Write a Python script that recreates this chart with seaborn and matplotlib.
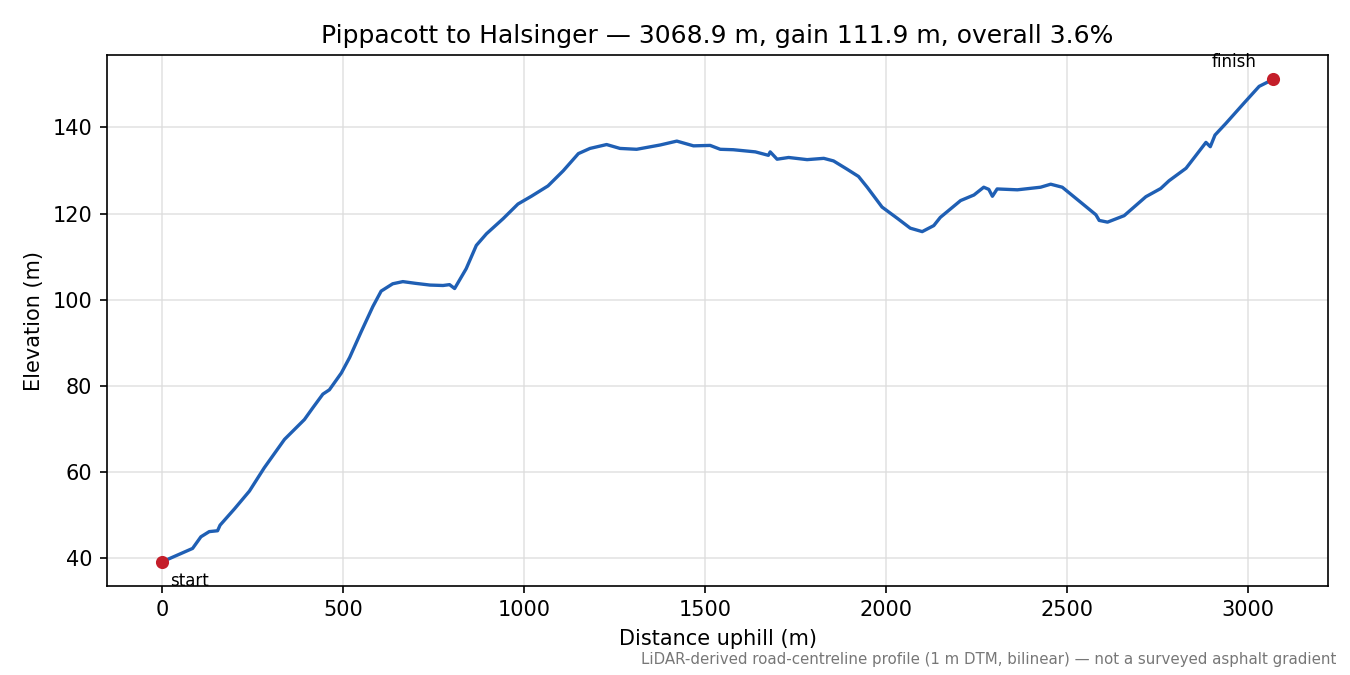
import matplotlib
matplotlib.use("Agg")
import matplotlib.pyplot as plt
import seaborn as sns
import pandas as pd

# profile (distance along road, elevation)
distance_m = [0, 84, 107, 130, 153, 160, 200, 241, 282, 338, 393, 416, 444, 462,
              495, 518, 550, 582, 605, 637, 665, 700, 740, 776, 794, 808,
              840, 868, 896, 942, 983, 1020, 1066, 1108, 1150, 1182, 1228,
              1265, 1311, 1376, 1422, 1468, 1514, 1542, 1578, 1639, 1675,
              1680, 1699, 1731, 1782, 1828, 1855, 1892, 1924, 1948, 1989,
              2031, 2067, 2100, 2132, 2150, 2206, 2243, 2270, 2284, 2294,
              2307, 2363, 2427, 2455, 2487, 2538, 2580, 2589, 2612, 2658,
              2718, 2759, 2782, 2829, 2852, 2884, 2896, 2909, 2939, 2990,
              3031, 3068.9]
elevation_m = [39.2, 42.3, 45.0, 46.2, 46.4, 47.7, 51.5, 55.6, 61.0, 67.6, 72.2,
               74.9, 78.1, 79.1, 83.0, 86.6, 92.6, 98.4, 102.0, 103.7, 104.2,
               103.8, 103.4, 103.3, 103.5, 102.6, 107.2, 112.6, 115.3, 118.8,
               122.2, 124.0, 126.4, 129.9, 133.9, 135.1, 136.0, 135.1, 134.9,
               135.9, 136.8, 135.7, 135.8, 134.9, 134.8, 134.3, 133.5, 134.3,
               132.6, 133.0, 132.5, 132.8, 132.2, 130.3, 128.6, 126.1, 121.5,
               118.9, 116.6, 115.8, 117.2, 119.1, 123.0, 124.3, 126.1, 125.6,
               124.0, 125.7, 125.5, 126.1, 126.8, 126.1, 122.6, 119.7, 118.4,
               118.0, 119.5, 123.9, 125.8, 127.6, 130.5, 133.0, 136.5, 135.5,
               138.2, 140.9, 145.7, 149.5, 151.1]

title = "Pippacott to Halsinger \u2014 3068.9 m, gain 111.9 m, overall 3.6%"
note = ("LiDAR-derived road-centreline profile (1 m DTM, bilinear) \u2014 "
        "not a surveyed asphalt gradient")

df = pd.DataFrame({"distance": distance_m, "elevation": elevation_m})

fig, ax = plt.subplots(figsize=(9, 4.5), dpi=150)
sns.lineplot(data=df, x="distance", y="elevation", ax=ax,
             color="#1f5fb4", linewidth=1.6)

ends = df.iloc[[0, -1]]
ax.scatter(ends["distance"], ends["elevation"], color="#c41e2a", s=28, zorder=3)
ax.annotate("start", (ends["distance"].iloc[0], ends["elevation"].iloc[0]),
            xytext=(4, -5), textcoords="offset points", va="top", fontsize=8)
ax.annotate("finish", (ends["distance"].iloc[1], ends["elevation"].iloc[1]),
            xytext=(-8, 4), textcoords="offset points", ha="right",
            va="bottom", fontsize=8)

ax.grid(True, color="#dddddd", linewidth=0.8, alpha=0.8)
ax.set_axisbelow(True)
ax.set_title(title, fontsize=12)
ax.set_xlabel("Distance uphill (m)")
ax.set_ylabel("Elevation (m)")

fig.text(0.99, 0.012, note, ha="right", va="bottom", fontsize=7.2,
         color="#777777")
fig.subplots_adjust(left=0.079, right=0.984, top=0.918, bottom=0.132)
fig.savefig("out.png", dpi=150)
